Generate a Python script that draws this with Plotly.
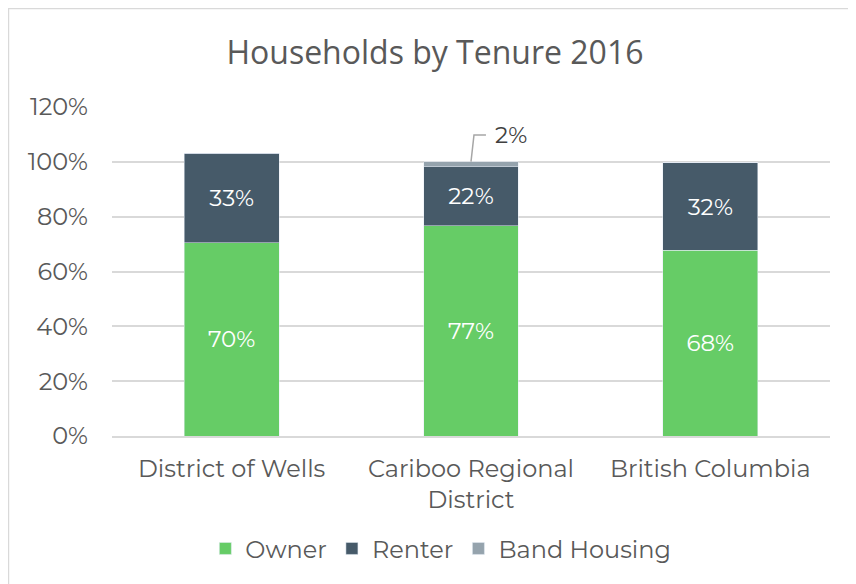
import plotly.graph_objects as go

categories = ["District of Wells", "Cariboo Regional<br>District", "British Columbia"]
owner = [0.704, 0.766, 0.677]
renter = [0.328, 0.216, 0.320]
band = [0.0, 0.019, 0.0]
tick_vals = [0, 0.2, 0.4, 0.6, 0.8, 1.0, 1.2]
tick_text = ["0%", "20%", "40%", "60%", "80%", "100%", "120%"]

label_font = "Montserrat, 'Open Sans', 'Noto Sans', sans-serif"

fig = go.Figure()
fig.add_trace(go.Bar(
    name="Owner", x=categories, y=owner, marker_color="#66CC66",
    texttemplate="%{y:.0%}", textposition="inside", insidetextanchor="middle",
    textfont=dict(color="white", size=23, family=label_font)))
fig.add_trace(go.Bar(
    name="Renter", x=categories, y=renter, marker_color="#465A69",
    texttemplate="%{y:.0%}", textposition="inside", insidetextanchor="middle",
    textfont=dict(color="white", size=23, family=label_font)))
fig.add_trace(go.Bar(
    name="Band Housing", x=categories, y=band, marker_color="#95A3AD",
    textposition="none"))

# leader label for the small Band Housing value
cb_top = owner[1] + renter[1] + band[1]
fig.add_shape(type="path", xref="x", yref="y",
              path=f"M 1,{cb_top} L 1.0125,1.098 L 1.0625,1.098",
              line=dict(color="#A6A6A6", width=1.5))
fig.add_annotation(x=1.093, y=1.098, xref="x", yref="y", text=f"{band[1]:.0%}",
                   showarrow=False, xanchor="left", yanchor="middle",
                   font=dict(size=23, color="#404040", family=label_font))

# outer frame
fig.add_shape(type="rect", xref="paper", yref="paper",
              x0=-0.1442, x1=1.2, y0=-0.6, y1=1.2994,
              line=dict(color="#D9D9D9", width=1.5), fillcolor="rgba(0,0,0,0)")

fig.update_layout(
    width=848, height=576,
    barmode="stack", bargap=0.604,
    plot_bgcolor="white", paper_bgcolor="white",
    margin=dict(l=104, r=26, t=99, b=148),
    title=dict(text="Households by Tenure 2016", x=0.5035, xanchor="center",
               y=1 - 45 / 576, yanchor="middle",
               font=dict(size=32, color="#595959",
                         family="'Open Sans', sans-serif")),
    yaxis=dict(range=[0, 1.2], tickvals=tick_vals, ticktext=tick_text,
               showgrid=True, gridcolor="#D9D9D9", gridwidth=1.5,
               zeroline=False, showline=False, ticks="", ticklen=0,
               ticklabelstandoff=23,
               tickfont=dict(size=24, color="#595959", family=label_font)),
    xaxis=dict(showline=True, linecolor="#D9D9D9", linewidth=1.5, ticks="",
               ticklabelstandoff=10,
               tickfont=dict(size=24, color="#595959", family=label_font)),
    legend=dict(orientation="h", x=0.458, xanchor="center", y=-0.343, yanchor="middle",
                font=dict(size=24, color="#595959", family=label_font),
                itemwidth=30, traceorder="normal"),
    showlegend=True,
)

fig.write_html("out.html")
